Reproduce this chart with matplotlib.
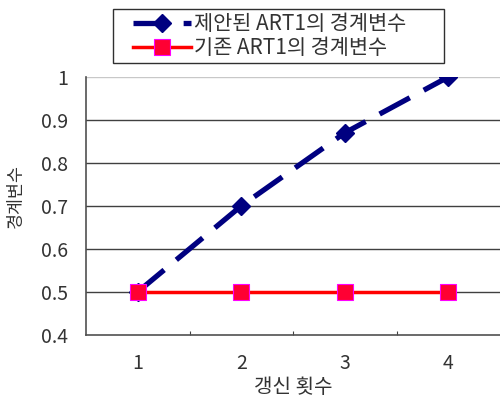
import matplotlib
matplotlib.use("Agg")
import matplotlib.pyplot as plt
from matplotlib.ticker import FixedLocator, NullFormatter
from matplotlib.patches import Rectangle

plt.rcParams['font.family'] = ['Noto Sans CJK KR', 'DejaVu Sans']

categories = ['1', '2', '3', '4']
proposed = [0.5, 0.7, 0.87, 1.0]
existing = [0.5, 0.5, 0.5, 0.5]
yticks = [0.4, 0.5, 0.6, 0.7, 0.8, 0.9, 1.0]
ytick_labels = ['0.4', '0.5', '0.6', '0.7', '0.8', '0.9', '1']
label_proposed = '제안된 ART1의 경계변수'
label_existing = '기존 ART1의 경계변수'
xlabel = '갱신 횟수'
ylabel = '경계변수'

W, H = 500, 401
fig = plt.figure(figsize=(W / 100, H / 100), dpi=100)
ax = fig.add_axes([0.172, 0.165, 0.828, 0.643])

x = [i + 0.5 for i in range(len(categories))]

for y in yticks[1:-1]:
    ax.axhline(y, color='#404040', lw=1.0, zorder=1)
ax.axhline(yticks[-1], color='#c8c8c8', lw=1.0, zorder=1)

ax.plot(x, existing, color='#ff0000', lw=2.5, marker='s', markersize=11,
        markerfacecolor='#ff0033', markeredgecolor='#ff00ff', markeredgewidth=0.8,
        label=label_existing, zorder=5)
ax.plot(x, proposed, color='#000080', lw=3.8, dashes=(6.5, 3), marker='D', markersize=9,
        markerfacecolor='#000080', markeredgecolor='#000080',
        label=label_proposed, zorder=4)

ax.set_xlim(0, len(categories))
ax.set_ylim(0.4, 1.0)
ax.xaxis.set_major_locator(FixedLocator([1, 2, 3]))
ax.xaxis.set_major_formatter(NullFormatter())
ax.xaxis.set_minor_locator(FixedLocator(x))
ax.set_xticklabels(categories, minor=True)
ax.tick_params(axis='x', which='major', direction='in', length=3, color='#404040')
ax.tick_params(axis='x', which='minor', length=0, pad=13, labelsize=14, labelcolor='#333333')
ax.set_yticks(yticks)
ax.set_yticklabels(ytick_labels)
ax.tick_params(axis='y', length=0, pad=13, labelsize=14, labelcolor='#333333')

for s in ['top', 'right']:
    ax.spines[s].set_visible(False)
for s in ['left', 'bottom']:
    ax.spines[s].set_color('#505050')
    ax.spines[s].set_linewidth(1.2)

fig.text(0.586, 0.033, xlabel, ha='center', va='center', fontsize=14.5, color='#333333')
fig.text(0.032, 0.51, ylabel, ha='center', va='center', rotation=90, fontsize=12.5, color='#333333')

# legend frame
fig.patches.append(Rectangle((113 / W, 1 - 63 / H), (444 - 113) / W, (63 - 9) / H,
                             transform=fig.transFigure, fill=True, facecolor='white',
                             edgecolor='#303030', lw=1.0, zorder=0))
h, l = ax.get_legend_handles_labels()
leg = fig.legend(h[::-1], l[::-1], loc='center left', bbox_to_anchor=(133 / W, 1 - 36 / H),
                 frameon=False, fontsize=15, handlelength=2.8,
                 borderpad=0, labelspacing=0.08, handletextpad=0.15, borderaxespad=0)
for t in leg.get_texts():
    t.set_color('#333333')

fig.savefig('out.png', dpi=100)
